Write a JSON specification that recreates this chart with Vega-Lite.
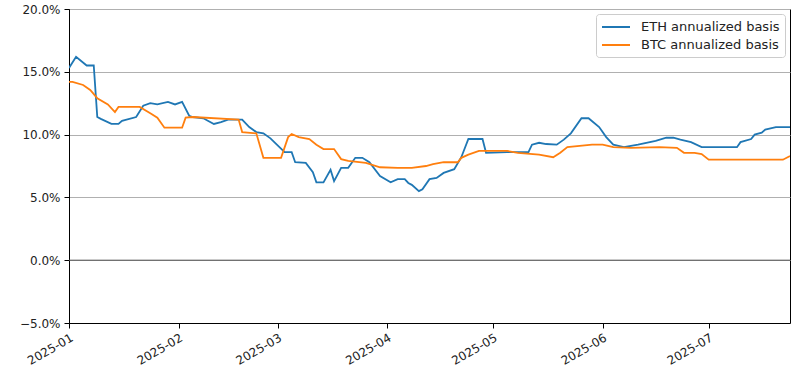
{
  "$schema": "https://vega.github.io/schema/vega-lite/v6.json",
  "width": 721,
  "height": 314,
  "autosize": {"type": "none"},
  "padding": {"left": 69, "top": 9, "right": 10, "bottom": 57},
  "background": "white",
  "config": {
    "font": "DejaVu Sans",
    "view": {"stroke": "#000000", "strokeWidth": 1},
    "axis": {"labelFont": "DejaVu Sans", "labelFontSize": 12, "labelColor": "#222222", "domainColor": "#000000", "tickColor": "#000000", "tickSize": 5, "domainWidth": 1, "tickWidth": 1, "title": null}
  },
  "datasets": {
    "series": [
      {"date": "2025-01-01", "s": "ETH annualized basis", "v": 0.153},
      {"date": "2025-01-03", "s": "ETH annualized basis", "v": 0.162},
      {"date": "2025-01-06", "s": "ETH annualized basis", "v": 0.155},
      {"date": "2025-01-08", "s": "ETH annualized basis", "v": 0.155},
      {"date": "2025-01-09", "s": "ETH annualized basis", "v": 0.114},
      {"date": "2025-01-10", "s": "ETH annualized basis", "v": 0.1125},
      {"date": "2025-01-13", "s": "ETH annualized basis", "v": 0.1085},
      {"date": "2025-01-15", "s": "ETH annualized basis", "v": 0.1085},
      {"date": "2025-01-16", "s": "ETH annualized basis", "v": 0.111},
      {"date": "2025-01-20", "s": "ETH annualized basis", "v": 0.114},
      {"date": "2025-01-22", "s": "ETH annualized basis", "v": 0.123},
      {"date": "2025-01-24", "s": "ETH annualized basis", "v": 0.125},
      {"date": "2025-01-26", "s": "ETH annualized basis", "v": 0.124},
      {"date": "2025-01-29", "s": "ETH annualized basis", "v": 0.126},
      {"date": "2025-01-31", "s": "ETH annualized basis", "v": 0.124},
      {"date": "2025-02-02", "s": "ETH annualized basis", "v": 0.126},
      {"date": "2025-02-04", "s": "ETH annualized basis", "v": 0.115},
      {"date": "2025-02-05", "s": "ETH annualized basis", "v": 0.114},
      {"date": "2025-02-08", "s": "ETH annualized basis", "v": 0.113},
      {"date": "2025-02-11", "s": "ETH annualized basis", "v": 0.1085},
      {"date": "2025-02-13", "s": "ETH annualized basis", "v": 0.110},
      {"date": "2025-02-15", "s": "ETH annualized basis", "v": 0.112},
      {"date": "2025-02-19", "s": "ETH annualized basis", "v": 0.112},
      {"date": "2025-02-21", "s": "ETH annualized basis", "v": 0.106},
      {"date": "2025-02-23", "s": "ETH annualized basis", "v": 0.102},
      {"date": "2025-02-25", "s": "ETH annualized basis", "v": 0.101},
      {"date": "2025-02-27", "s": "ETH annualized basis", "v": 0.097},
      {"date": "2025-03-03", "s": "ETH annualized basis", "v": 0.086},
      {"date": "2025-03-05", "s": "ETH annualized basis", "v": 0.086},
      {"date": "2025-03-06", "s": "ETH annualized basis", "v": 0.078},
      {"date": "2025-03-09", "s": "ETH annualized basis", "v": 0.0775},
      {"date": "2025-03-11", "s": "ETH annualized basis", "v": 0.070},
      {"date": "2025-03-12", "s": "ETH annualized basis", "v": 0.062},
      {"date": "2025-03-14", "s": "ETH annualized basis", "v": 0.062},
      {"date": "2025-03-16", "s": "ETH annualized basis", "v": 0.072},
      {"date": "2025-03-17", "s": "ETH annualized basis", "v": 0.063},
      {"date": "2025-03-19", "s": "ETH annualized basis", "v": 0.0735},
      {"date": "2025-03-21", "s": "ETH annualized basis", "v": 0.0735},
      {"date": "2025-03-23", "s": "ETH annualized basis", "v": 0.0815},
      {"date": "2025-03-25", "s": "ETH annualized basis", "v": 0.0815},
      {"date": "2025-03-27", "s": "ETH annualized basis", "v": 0.078},
      {"date": "2025-03-30", "s": "ETH annualized basis", "v": 0.067},
      {"date": "2025-04-02", "s": "ETH annualized basis", "v": 0.062},
      {"date": "2025-04-04", "s": "ETH annualized basis", "v": 0.0645},
      {"date": "2025-04-06", "s": "ETH annualized basis", "v": 0.0645},
      {"date": "2025-04-07", "s": "ETH annualized basis", "v": 0.0615},
      {"date": "2025-04-08", "s": "ETH annualized basis", "v": 0.060},
      {"date": "2025-04-10", "s": "ETH annualized basis", "v": 0.055},
      {"date": "2025-04-11", "s": "ETH annualized basis", "v": 0.0565},
      {"date": "2025-04-13", "s": "ETH annualized basis", "v": 0.0645},
      {"date": "2025-04-15", "s": "ETH annualized basis", "v": 0.0655},
      {"date": "2025-04-17", "s": "ETH annualized basis", "v": 0.0695},
      {"date": "2025-04-20", "s": "ETH annualized basis", "v": 0.0725},
      {"date": "2025-04-22", "s": "ETH annualized basis", "v": 0.082},
      {"date": "2025-04-24", "s": "ETH annualized basis", "v": 0.0965},
      {"date": "2025-04-28", "s": "ETH annualized basis", "v": 0.0965},
      {"date": "2025-04-29", "s": "ETH annualized basis", "v": 0.0855},
      {"date": "2025-05-05", "s": "ETH annualized basis", "v": 0.086},
      {"date": "2025-05-11", "s": "ETH annualized basis", "v": 0.086},
      {"date": "2025-05-12", "s": "ETH annualized basis", "v": 0.092},
      {"date": "2025-05-14", "s": "ETH annualized basis", "v": 0.0935},
      {"date": "2025-05-16", "s": "ETH annualized basis", "v": 0.0925},
      {"date": "2025-05-19", "s": "ETH annualized basis", "v": 0.092},
      {"date": "2025-05-21", "s": "ETH annualized basis", "v": 0.096},
      {"date": "2025-05-23", "s": "ETH annualized basis", "v": 0.101},
      {"date": "2025-05-26", "s": "ETH annualized basis", "v": 0.113},
      {"date": "2025-05-28", "s": "ETH annualized basis", "v": 0.113},
      {"date": "2025-05-31", "s": "ETH annualized basis", "v": 0.106},
      {"date": "2025-06-02", "s": "ETH annualized basis", "v": 0.098},
      {"date": "2025-06-04", "s": "ETH annualized basis", "v": 0.092},
      {"date": "2025-06-07", "s": "ETH annualized basis", "v": 0.090},
      {"date": "2025-06-09", "s": "ETH annualized basis", "v": 0.091},
      {"date": "2025-06-11", "s": "ETH annualized basis", "v": 0.092},
      {"date": "2025-06-16", "s": "ETH annualized basis", "v": 0.095},
      {"date": "2025-06-19", "s": "ETH annualized basis", "v": 0.0975},
      {"date": "2025-06-21", "s": "ETH annualized basis", "v": 0.0975},
      {"date": "2025-06-23", "s": "ETH annualized basis", "v": 0.096},
      {"date": "2025-06-26", "s": "ETH annualized basis", "v": 0.094},
      {"date": "2025-06-29", "s": "ETH annualized basis", "v": 0.090},
      {"date": "2025-07-09", "s": "ETH annualized basis", "v": 0.090},
      {"date": "2025-07-10", "s": "ETH annualized basis", "v": 0.094},
      {"date": "2025-07-13", "s": "ETH annualized basis", "v": 0.0965},
      {"date": "2025-07-14", "s": "ETH annualized basis", "v": 0.100},
      {"date": "2025-07-16", "s": "ETH annualized basis", "v": 0.1015},
      {"date": "2025-07-17", "s": "ETH annualized basis", "v": 0.104},
      {"date": "2025-07-20", "s": "ETH annualized basis", "v": 0.106},
      {"date": "2025-07-24", "s": "ETH annualized basis", "v": 0.106},
      {"date": "2025-01-01", "s": "\u2002BTC annualized basis", "v": 0.142},
      {"date": "2025-01-02", "s": "\u2002BTC annualized basis", "v": 0.142},
      {"date": "2025-01-05", "s": "\u2002BTC annualized basis", "v": 0.1395},
      {"date": "2025-01-07", "s": "\u2002BTC annualized basis", "v": 0.1355},
      {"date": "2025-01-09", "s": "\u2002BTC annualized basis", "v": 0.129},
      {"date": "2025-01-12", "s": "\u2002BTC annualized basis", "v": 0.124},
      {"date": "2025-01-14", "s": "\u2002BTC annualized basis", "v": 0.118},
      {"date": "2025-01-15", "s": "\u2002BTC annualized basis", "v": 0.122},
      {"date": "2025-01-21", "s": "\u2002BTC annualized basis", "v": 0.122},
      {"date": "2025-01-24", "s": "\u2002BTC annualized basis", "v": 0.117},
      {"date": "2025-01-26", "s": "\u2002BTC annualized basis", "v": 0.1135},
      {"date": "2025-01-28", "s": "\u2002BTC annualized basis", "v": 0.1055},
      {"date": "2025-02-02", "s": "\u2002BTC annualized basis", "v": 0.1055},
      {"date": "2025-02-03", "s": "\u2002BTC annualized basis", "v": 0.1135},
      {"date": "2025-02-05", "s": "\u2002BTC annualized basis", "v": 0.114},
      {"date": "2025-02-18", "s": "\u2002BTC annualized basis", "v": 0.112},
      {"date": "2025-02-19", "s": "\u2002BTC annualized basis", "v": 0.102},
      {"date": "2025-02-23", "s": "\u2002BTC annualized basis", "v": 0.101},
      {"date": "2025-02-25", "s": "\u2002BTC annualized basis", "v": 0.0815},
      {"date": "2025-03-02", "s": "\u2002BTC annualized basis", "v": 0.0815},
      {"date": "2025-03-04", "s": "\u2002BTC annualized basis", "v": 0.098},
      {"date": "2025-03-05", "s": "\u2002BTC annualized basis", "v": 0.1005},
      {"date": "2025-03-07", "s": "\u2002BTC annualized basis", "v": 0.098},
      {"date": "2025-03-10", "s": "\u2002BTC annualized basis", "v": 0.0965},
      {"date": "2025-03-12", "s": "\u2002BTC annualized basis", "v": 0.092},
      {"date": "2025-03-14", "s": "\u2002BTC annualized basis", "v": 0.0885},
      {"date": "2025-03-17", "s": "\u2002BTC annualized basis", "v": 0.0885},
      {"date": "2025-03-19", "s": "\u2002BTC annualized basis", "v": 0.0805},
      {"date": "2025-03-21", "s": "\u2002BTC annualized basis", "v": 0.079},
      {"date": "2025-03-26", "s": "\u2002BTC annualized basis", "v": 0.0775},
      {"date": "2025-03-30", "s": "\u2002BTC annualized basis", "v": 0.074},
      {"date": "2025-04-04", "s": "\u2002BTC annualized basis", "v": 0.0735},
      {"date": "2025-04-08", "s": "\u2002BTC annualized basis", "v": 0.0735},
      {"date": "2025-04-12", "s": "\u2002BTC annualized basis", "v": 0.075},
      {"date": "2025-04-14", "s": "\u2002BTC annualized basis", "v": 0.0765},
      {"date": "2025-04-17", "s": "\u2002BTC annualized basis", "v": 0.078},
      {"date": "2025-04-21", "s": "\u2002BTC annualized basis", "v": 0.078},
      {"date": "2025-04-22", "s": "\u2002BTC annualized basis", "v": 0.0815},
      {"date": "2025-04-24", "s": "\u2002BTC annualized basis", "v": 0.084},
      {"date": "2025-04-27", "s": "\u2002BTC annualized basis", "v": 0.087},
      {"date": "2025-05-05", "s": "\u2002BTC annualized basis", "v": 0.087},
      {"date": "2025-05-08", "s": "\u2002BTC annualized basis", "v": 0.0855},
      {"date": "2025-05-14", "s": "\u2002BTC annualized basis", "v": 0.084},
      {"date": "2025-05-18", "s": "\u2002BTC annualized basis", "v": 0.082},
      {"date": "2025-05-20", "s": "\u2002BTC annualized basis", "v": 0.0855},
      {"date": "2025-05-22", "s": "\u2002BTC annualized basis", "v": 0.090},
      {"date": "2025-05-29", "s": "\u2002BTC annualized basis", "v": 0.092},
      {"date": "2025-06-01", "s": "\u2002BTC annualized basis", "v": 0.092},
      {"date": "2025-06-04", "s": "\u2002BTC annualized basis", "v": 0.090},
      {"date": "2025-06-09", "s": "\u2002BTC annualized basis", "v": 0.0895},
      {"date": "2025-06-17", "s": "\u2002BTC annualized basis", "v": 0.090},
      {"date": "2025-06-22", "s": "\u2002BTC annualized basis", "v": 0.0895},
      {"date": "2025-06-24", "s": "\u2002BTC annualized basis", "v": 0.0855},
      {"date": "2025-06-27", "s": "\u2002BTC annualized basis", "v": 0.0855},
      {"date": "2025-06-29", "s": "\u2002BTC annualized basis", "v": 0.0845},
      {"date": "2025-07-01", "s": "\u2002BTC annualized basis", "v": 0.080},
      {"date": "2025-07-09", "s": "\u2002BTC annualized basis", "v": 0.080},
      {"date": "2025-07-22", "s": "\u2002BTC annualized basis", "v": 0.080},
      {"date": "2025-07-24", "s": "\u2002BTC annualized basis", "v": 0.083}
    ],
    "zero": [{"v": 0}]
  },
  "layer": [
    {
      "data": {"name": "zero"},
      "mark": {"type": "rule", "color": "#555555", "strokeWidth": 1},
      "encoding": {
        "y": {"field": "v", "type": "quantitative", "scale": {"domain": [-0.05, 0.2]}}
      }
    },
    {
      "data": {"name": "series"},
      "mark": {"type": "line", "strokeWidth": 1.8, "clip": true},
      "encoding": {
        "x": {
          "field": "date",
          "type": "temporal",
          "scale": {"type": "utc", "domain": [{"year": 2025, "month": 1, "date": 1, "utc": true}, {"year": 2025, "month": 7, "date": 24, "utc": true}]},
          "axis": {"format": "%Y-%m", "tickCount": {"interval": "month", "step": 1}, "labelAngle": -30, "labelAlign": "right", "labelBaseline": "top", "labelPadding": 4, "grid": false, "labelOverlap": false}
        },
        "y": {
          "field": "v",
          "type": "quantitative",
          "scale": {"domain": [-0.05, 0.2], "nice": false, "zero": false},
          "axis": {"format": ".1%", "values": [-0.05, 0, 0.05, 0.1, 0.15, 0.2], "grid": true, "gridColor": "#b0b0b0", "gridWidth": 1, "labelPadding": 4}
        },
        "color": {
          "field": "s",
          "type": "nominal",
          "scale": {"domain": ["ETH annualized basis", "\u2002BTC annualized basis"], "range": ["#1f77b4", "#ff7f0e"]},
          "legend": {
            "title": null,
            "orient": "top-right",
            "offset": 5,
            "symbolType": "M-1,0H3",
            "symbolSize": 196,
            "symbolStrokeWidth": 2,
            "labelFont": "DejaVu Sans",
            "labelFontSize": 13,
            "labelColor": "#222222",
            "labelOffset": 24,
            "rowPadding": 3,
            "padding": 5,
            "strokeColor": "#cccccc",
            "fillColor": "#ffffff",
            "cornerRadius": 3
          }
        }
      }
    }
  ]
}
